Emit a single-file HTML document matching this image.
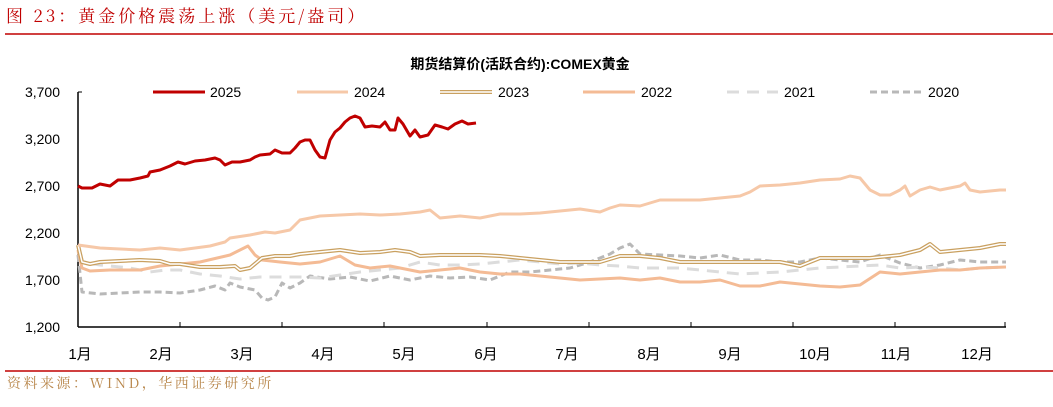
<!DOCTYPE html>
<html><head><meta charset="utf-8"><style>
body{margin:0;background:#fff;width:1053px;height:407px;overflow:hidden}
svg{display:block}
text{font-family:"Liberation Sans","Noto Sans CJK SC",sans-serif}
</style></head><body>
<svg width="1053" height="407" viewBox="0 0 1053 407">
<text x="6" y="22" font-size="17" fill="#c00000" style="font-family:'Noto Serif CJK SC',serif" letter-spacing="3">图 23：黄金价格震荡上涨（美元/盎司）</text>
<line x1="5" y1="34" x2="1053" y2="34" stroke="#c00000" stroke-width="1.5"/>
<text x="520" y="69" font-size="14" font-weight="bold" text-anchor="middle" fill="#000">期货结算价(活跃合约):COMEX黄金</text>
<g font-size="14" fill="#000" text-anchor="end">
<text x="60" y="97">3,700</text><text x="60" y="144">3,200</text><text x="60" y="191">2,700</text><text x="60" y="238">2,200</text><text x="60" y="285">1,700</text><text x="60" y="332">1,200</text>
</g>
<line x1="78" y1="92" x2="78" y2="327" stroke="#000" stroke-width="1.5"/>
<line x1="78" y1="92" x2="82" y2="92" stroke="#000"/>
<line x1="78" y1="327" x2="1006" y2="327" stroke="#000" stroke-width="1.5"/>
<g stroke="#000"><line x1="180" y1="322" x2="180" y2="327"/><line x1="282" y1="322" x2="282" y2="327"/><line x1="384" y1="322" x2="384" y2="327"/><line x1="487" y1="322" x2="487" y2="327"/><line x1="589" y1="322" x2="589" y2="327"/><line x1="691" y1="322" x2="691" y2="327"/><line x1="793" y1="322" x2="793" y2="327"/><line x1="895" y1="322" x2="895" y2="327"/><line x1="1005" y1="322" x2="1005" y2="327"/></g>
<g font-size="15" fill="#000" text-anchor="middle">
<text x="80" y="359">1月</text><text x="161" y="359">2月</text><text x="242" y="359">3月</text><text x="323" y="359">4月</text><text x="404" y="359">5月</text><text x="486" y="359">6月</text><text x="567" y="359">7月</text><text x="649" y="359">8月</text><text x="730" y="359">9月</text><text x="815" y="359">10月</text><text x="896" y="359">11月</text><text x="977" y="359">12月</text>
</g>
<g fill="none" stroke-linejoin="round">
<polyline stroke="#b8b8b8" stroke-width="3" stroke-dasharray="7,4" points="78,255 82,292 100,294 120,293 140,292 160,292 180,293 200,290 215,286 225,290 230,283 240,287 255,290 262,298 268,300 275,297 282,283 290,288 300,283 310,276 330,279 350,277 370,281 390,276 410,280 430,276 450,278 470,277 490,280 510,272 530,272 550,270 570,268 590,262 600,258 610,254 620,248 630,244 640,254 660,255 680,256 700,258 720,255 740,260 760,260 780,262 800,262 820,258 840,260 860,262 880,255 900,263 920,268 940,265 960,260 980,262 1006,262"/>
<polyline stroke="#dcdcdc" stroke-width="3" stroke-dasharray="12,8" points="78,252 82,262 100,265 130,268 150,272 165,270 180,270 200,274 220,276 240,279 260,277 280,277 300,277 320,278 340,275 360,272 380,270 400,268 420,262 440,265 460,265 480,264 500,262 520,260 540,262 560,264 580,263 600,265 620,266 640,268 660,268 680,268 700,270 720,272 740,274 760,273 780,272 800,270 820,268 840,267 860,266 880,265 900,268 920,267 940,268 960,270 980,268 1006,267"/>
<polyline stroke="#f4bb95" stroke-width="3" points="78,250 82,268 90,271 110,270 140,270 160,266 180,264 200,262 230,255 248,246 255,255 262,260 280,262 300,264 320,262 340,256 355,265 370,268 390,266 420,272 440,270 460,268 480,272 500,274 520,274 540,276 560,278 580,280 600,279 620,278 640,280 660,278 680,282 700,282 720,280 740,286 760,286 780,282 800,284 820,286 840,287 860,285 880,272 900,274 920,272 940,270 960,270 980,268 1006,267"/>
<polyline stroke="#c9a060" stroke-width="4" points="78,245 82,262 90,264 100,262 120,261 140,260 160,261 170,264 180,264 200,267 220,267 235,266 240,270 250,268 262,258 275,256 290,256 300,254 320,252 340,250 360,253 380,252 395,250 410,252 420,256 440,255 460,255 480,255 500,256 520,258 540,260 560,262 580,262 600,262 620,256 640,256 660,258 680,262 700,262 730,262 760,262 780,262 800,266 820,258 840,258 870,258 900,255 920,250 930,244 940,252 960,250 980,248 1000,244 1006,244"/>
<polyline stroke="#fff" stroke-width="1.5" points="78,245 82,262 90,264 100,262 120,261 140,260 160,261 170,264 180,264 200,267 220,267 235,266 240,270 250,268 262,258 275,256 290,256 300,254 320,252 340,250 360,253 380,252 395,250 410,252 420,256 440,255 460,255 480,255 500,256 520,258 540,260 560,262 580,262 600,262 620,256 640,256 660,258 680,262 700,262 730,262 760,262 780,262 800,266 820,258 840,258 870,258 900,255 920,250 930,244 940,252 960,250 980,248 1000,244 1006,244"/>
<polyline stroke="#f6c8a8" stroke-width="3" points="78,245 100,248 140,250 160,248 180,250 210,246 225,242 230,238 250,235 265,232 275,233 290,230 300,220 310,218 320,216 340,215 360,214 380,215 400,214 420,212 430,210 440,218 460,216 480,218 500,214 520,214 540,213 560,211 580,209 600,212 610,208 620,205 640,206 660,200 680,200 700,200 720,198 740,196 750,192 760,186 780,185 800,183 820,180 840,179 850,176 860,178 870,190 880,195 890,195 900,190 905,186 910,196 920,190 930,187 940,190 950,188 960,186 965,183 970,190 980,192 1000,190 1006,190"/>
<polyline stroke="#c00000" stroke-width="3" points="78,186 82,188 92,188 100,184 110,186 118,180 130,180 140,178 148,176 150,172 160,170 170,166 178,162 185,164 195,161 205,160 215,158 220,160 225,165 232,162 240,162 250,160 255,157 260,155 270,154 275,150 282,153 290,153 295,148 300,142 305,140 310,140 315,150 320,157 325,158 330,140 335,132 340,128 345,122 350,118 355,116 360,118 365,127 372,126 380,127 385,122 390,130 395,130 398,118 403,124 410,136 415,130 420,137 428,135 435,125 442,127 448,129 455,124 462,121 468,124 476,123"/>
</g>
<g font-size="14" fill="#000">
<line x1="153" y1="92" x2="205" y2="92" stroke="#c00000" stroke-width="3"/><text x="210" y="97">2025</text>
<line x1="297" y1="92" x2="348" y2="92" stroke="#f6c8a8" stroke-width="3"/><text x="354" y="97">2024</text>
<line x1="440" y1="92" x2="492" y2="92" stroke="#c9a060" stroke-width="4"/><line x1="440" y1="92" x2="492" y2="92" stroke="#fff" stroke-width="1.5"/><text x="498" y="97">2023</text>
<line x1="583" y1="92" x2="635" y2="92" stroke="#f4bb95" stroke-width="3"/><text x="641" y="97">2022</text>
<line x1="727" y1="92" x2="778" y2="92" stroke="#dcdcdc" stroke-width="3" stroke-dasharray="12,8"/><text x="784" y="97">2021</text>
<line x1="870" y1="92" x2="922" y2="92" stroke="#b8b8b8" stroke-width="3" stroke-dasharray="7,4"/><text x="928" y="97">2020</text>
</g>
<line x1="5" y1="371" x2="1053" y2="371" stroke="#c00000" stroke-width="1.5"/>
<text x="7" y="388" font-size="14" fill="#b8864a" style="font-family:'Noto Serif CJK SC','Liberation Mono',serif" letter-spacing="2.5">资料来源：WIND，华西证券研究所</text>
</svg>
</body></html>
